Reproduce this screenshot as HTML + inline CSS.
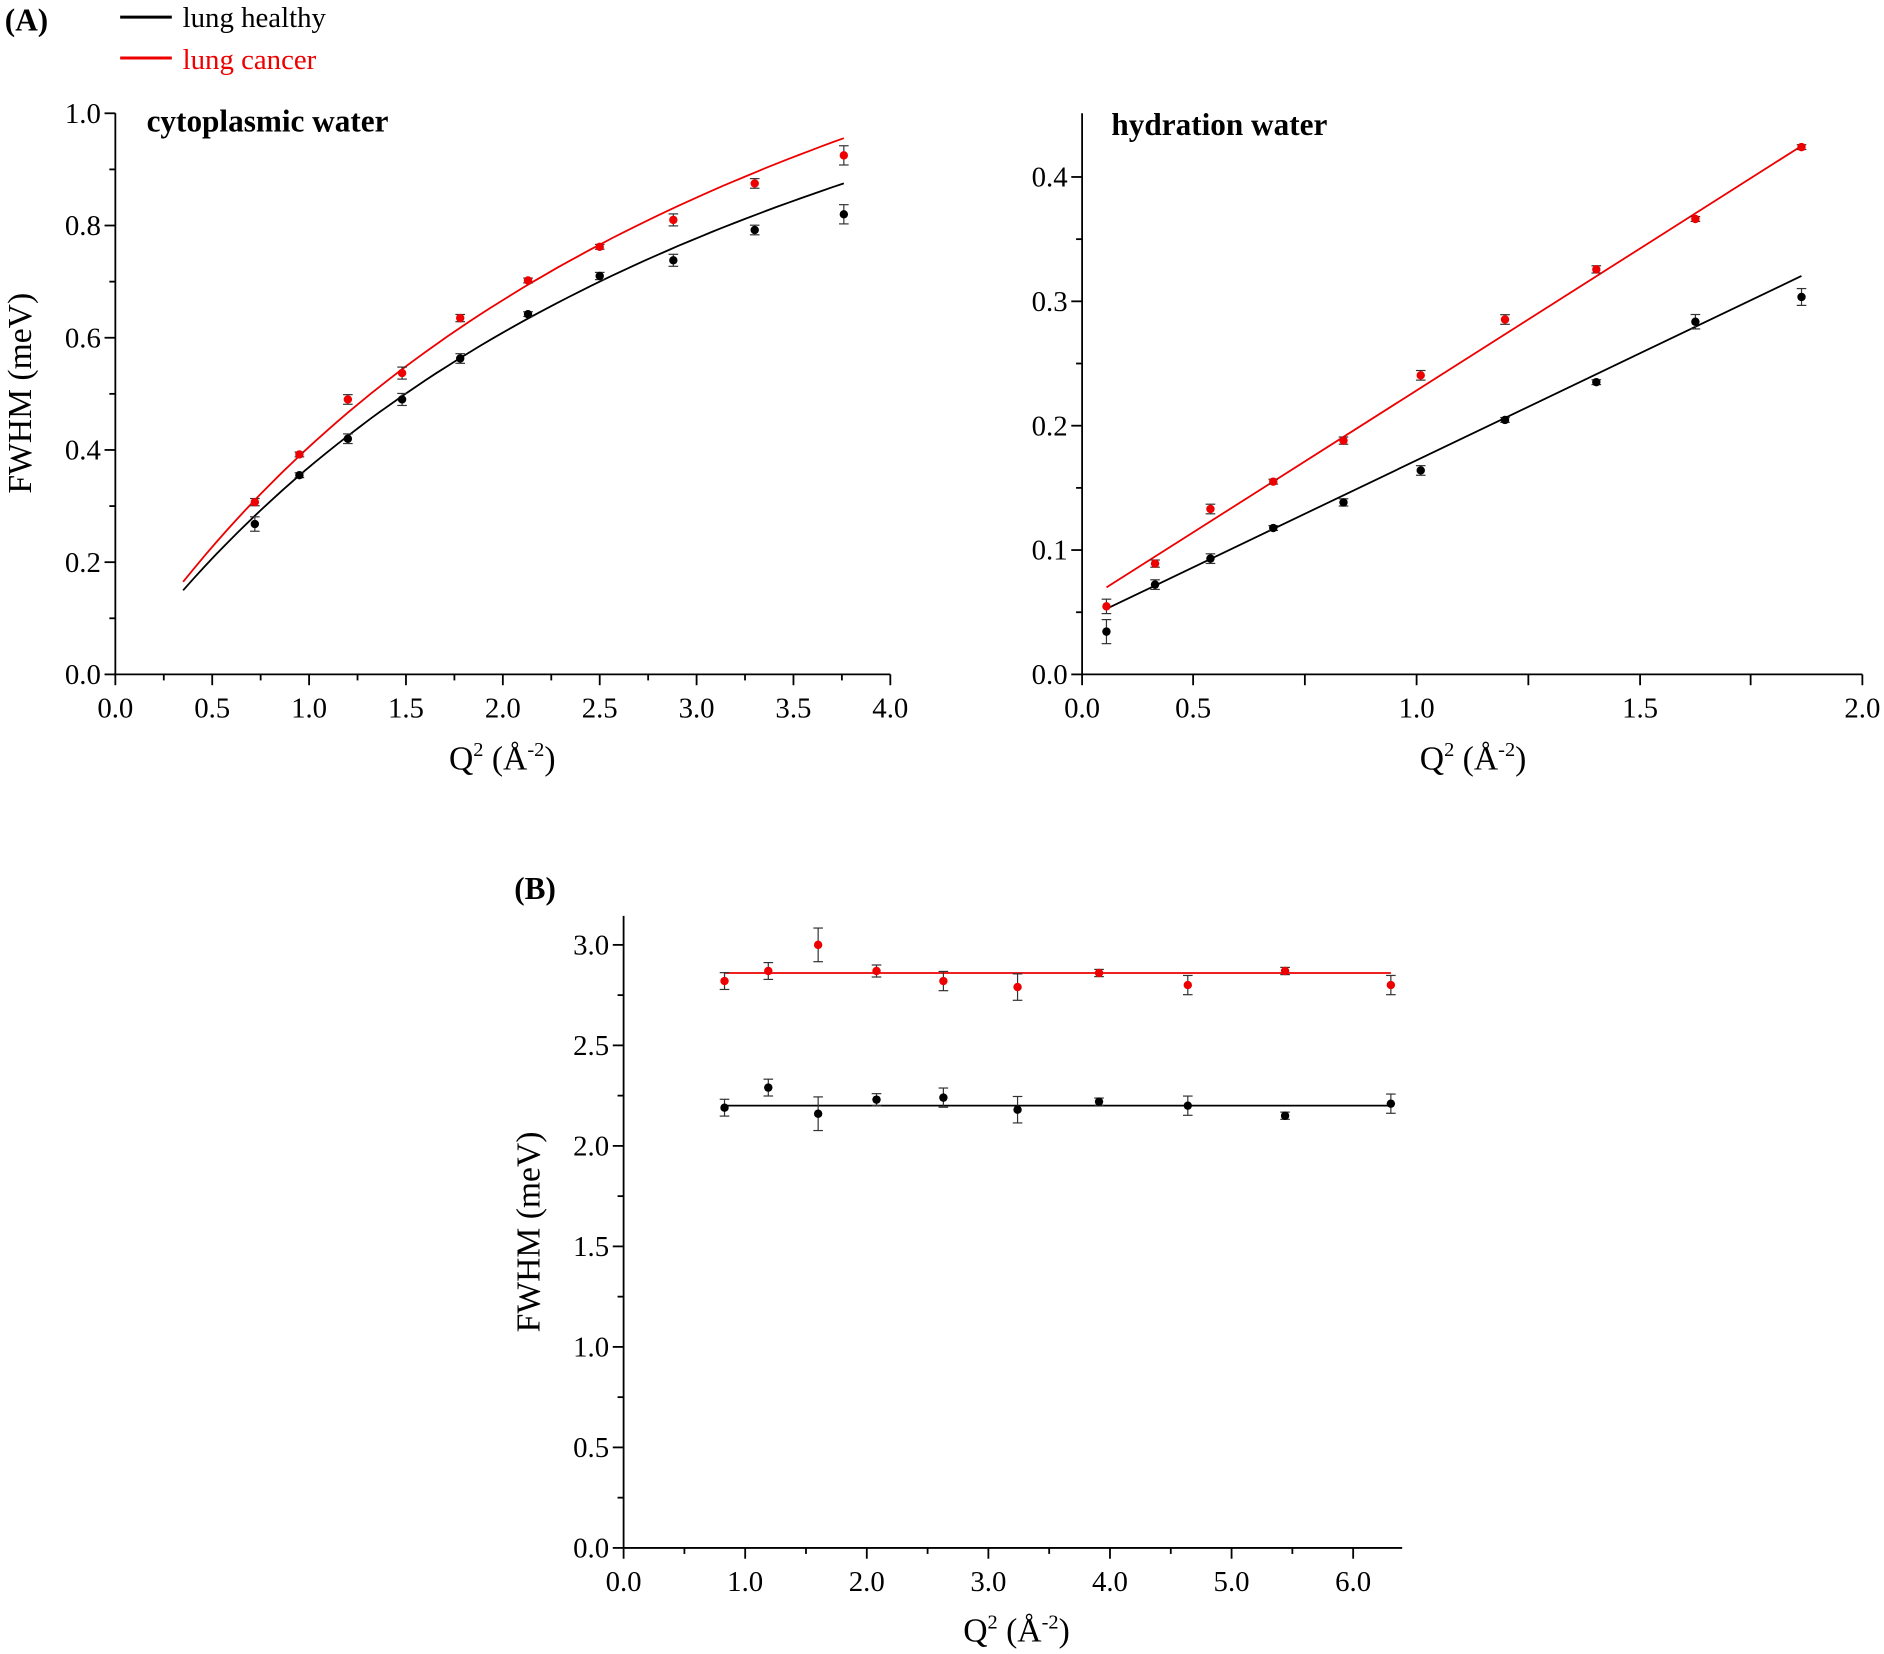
<!DOCTYPE html>
<html><head><meta charset="utf-8"><style>
html,body{margin:0;padding:0;background:#fff;}
svg{display:block;}
text{font-family:"Liberation Serif","Times New Roman",serif;}
</style></head><body>
<svg id="s" width="1884" height="1654" viewBox="0 0 1568 1376" xmlns="http://www.w3.org/2000/svg"></svg>
<script>
const S=document.getElementById('s');let h='';
function T(x,y,t,o){o=o||{};h+=`<text x="${x}" y="${y}" font-size="${o.fs||24}" text-anchor="${o.a||'middle'}" fill="${o.c||'#000'}" ${o.b?'font-weight="bold"':''} ${o.r?`transform="rotate(-90 ${x} ${y})"`:''}>${t}</text>`;}
function L(x1,y1,x2,y2,c,w){h+=`<line x1="${x1}" y1="${y1}" x2="${x2}" y2="${y2}" stroke="${c||'#000'}" stroke-width="${w||1.5}"/>`;}
function panel(p){
 const X=v=>p.x0+(v-p.xmin)*p.sx, Y=v=>p.y0-v*p.sy;
 L(p.x0,p.ytop,p.x0,p.y0);L(p.x0,p.y0,p.xend,p.y0);
 if(p.xt){p.xt.forEach(t=>{L(t[0],p.y0,t[0],p.y0+9);if(t[1])T(t[0],p.y0+36,t[1]);});}
 else for(let i=0;i<=p.nx*2;i++){const v=p.xmin+i*p.dx/2;const x=X(v);if(x>p.xend+1)break;L(x,p.y0,x,p.y0+(i%2?5:9));if(i%2==0)T(x,p.y0+36,v.toFixed(1));}
 for(let i=0;i<=p.ny*2;i++){const v=i*p.dy/2;const y=Y(v);if(y<p.ytop-1)break;L(p.x0,y,p.x0-(i%2?5:9),y);if(i%2==0)T(p.x0-12,y+8,v.toFixed(1),{a:'end'});}
 p.series.forEach(s=>{
  let d='';s.f.forEach((pt,i)=>{d+=(i?'L':'M')+X(pt[0]).toFixed(1)+' '+Y(pt[1]).toFixed(1);});
  h+=`<path d="${d}" fill="none" stroke="${s.c}" stroke-width="1.5"/>`;
  s.d.forEach(pt=>{const x=X(pt[0]),y=Y(pt[1]),e=pt[2]||4;L(x,y-e,x,y+e,'#333',1);L(x-4,y-e,x+4,y-e,'#333',1);L(x-4,y+e,x+4,y+e,'#333',1);h+=`<circle cx="${x}" cy="${y}" r="3.5" fill="${s.c}"/>`;});
 });
}
function curve(a,b,q0,q1){const r=[];for(let i=0;i<=60;i++){const q=q0+(q1-q0)*i/60;r.push([q,a*q/(1+b*q)]);}return r;}
const xl1=[0.72,0.95,1.2,1.48,1.78,2.13,2.5,2.88,3.3,3.76];
const bk1=[0.268,0.355,0.42,0.49,0.563,0.642,0.71,0.738,0.792,0.82],rd1=[0.307,0.392,0.49,0.537,0.635,0.702,0.762,0.81,0.875,0.925];
const eb1=[6,2,4,5,4,2,3,5,4,8],er1=[3,2,4,5,3,2,2,5,4,8];
panel({x0:96,y0:561,xmin:0,sx:161.25,sy:467,xend:741,ytop:94,dx:0.5,nx:8,dy:0.2,ny:5,series:[
 {c:'#000',f:curve(0.469,0.27,0.35,3.76),d:xl1.map((x,i)=>[x,bk1[i],eb1[i]])},
 {c:'#e00',f:curve(0.517,0.275,0.35,3.76),d:xl1.map((x,i)=>[x,rd1[i],er1[i]])}]});
const xl2=[0.0624,0.187,0.329,0.49,0.67,0.868,1.084,1.318,1.572,1.844];
const bk2=[0.0344,0.0722,0.0931,0.1177,0.1383,0.164,0.2046,0.235,0.2836,0.3035],rd2=[0.0547,0.0891,0.133,0.155,0.188,0.2405,0.2854,0.3257,0.3662,0.424];
const eb2=[10,4,4,2,3,4,2,2,6,7],er2=[6,3,4,2,3,4,4,3,2,2];
const xt2=[[900.6,'0.0'],[993,'0.5'],[1086,''],[1179,'1.0'],[1272,''],[1365,'1.5'],[1457,''],[1550,'2.0']];
panel({x0:900.6,y0:561,xmin:0,sx:324.7,sy:1035,xend:1550,ytop:94,dx:0.5,nx:4,dy:0.1,ny:4,xt:xt2,series:[
 {c:'#000',f:[[0.0624,0.0528],[1.844,0.3204]],d:xl2.map((x,i)=>[x,bk2[i],eb2[i]])},
 {c:'#e00',f:[[0.0624,0.070],[1.844,0.4249]],d:xl2.map((x,i)=>[x,rd2[i],er2[i]])}]});
const xl3=[0.83,1.19,1.6,2.08,2.63,3.24,3.91,4.64,5.44,6.31];
const bk3=[2.19,2.29,2.16,2.23,2.24,2.18,2.22,2.20,2.15,2.21],rd3=[2.82,2.87,3.0,2.87,2.82,2.79,2.86,2.8,2.87,2.80];
const eb3=[7,7,14,5,8,11,3,8,3,8],er3=[7,7,14,5,8,11,3,8,3,8];
panel({x0:519,y0:1288,xmin:0,sx:101.2,sy:167.3,xend:1167,ytop:762,dx:1,nx:6,dy:0.5,ny:6,series:[
 {c:'#000',f:[[0.83,2.2],[6.31,2.2]],d:xl3.map((x,i)=>[x,bk3[i],eb3[i]])},
 {c:'#e00',f:[[0.83,2.86],[6.31,2.86]],d:xl3.map((x,i)=>[x,rd3[i],er3[i]])}]});
T(4,25,'(A)',{a:'start',b:1,fs:26});T(428,748,'(B)',{a:'start',b:1,fs:26});
L(100,14,143,14,'#000',2.5);L(100,48,143,48,'#e00',2.5);
T(152,22,'lung healthy',{a:'start',fs:24});T(152,57,'lung cancer',{a:'start',fs:24,c:'#e00'});
T(122,109,'cytoplasmic water',{a:'start',b:1,fs:26});T(925,112,'hydration water',{a:'start',b:1,fs:26});
T(26,327,'FWHM (meV)',{r:1,fs:28});T(449,1025,'FWHM (meV)',{r:1,fs:28});
T(418,640,'Q<tspan font-size="17" dy="-11">2</tspan><tspan dy="11"> (Å</tspan><tspan font-size="17" dy="-11">-2</tspan><tspan dy="11">)</tspan>',{fs:28});
T(1226,640,'Q<tspan font-size="17" dy="-11">2</tspan><tspan dy="11"> (Å</tspan><tspan font-size="17" dy="-11">-2</tspan><tspan dy="11">)</tspan>',{fs:28});
T(846,1366,'Q<tspan font-size="17" dy="-11">2</tspan><tspan dy="11"> (Å</tspan><tspan font-size="17" dy="-11">-2</tspan><tspan dy="11">)</tspan>',{fs:28});
S.innerHTML=h;
</script>
</body></html>
